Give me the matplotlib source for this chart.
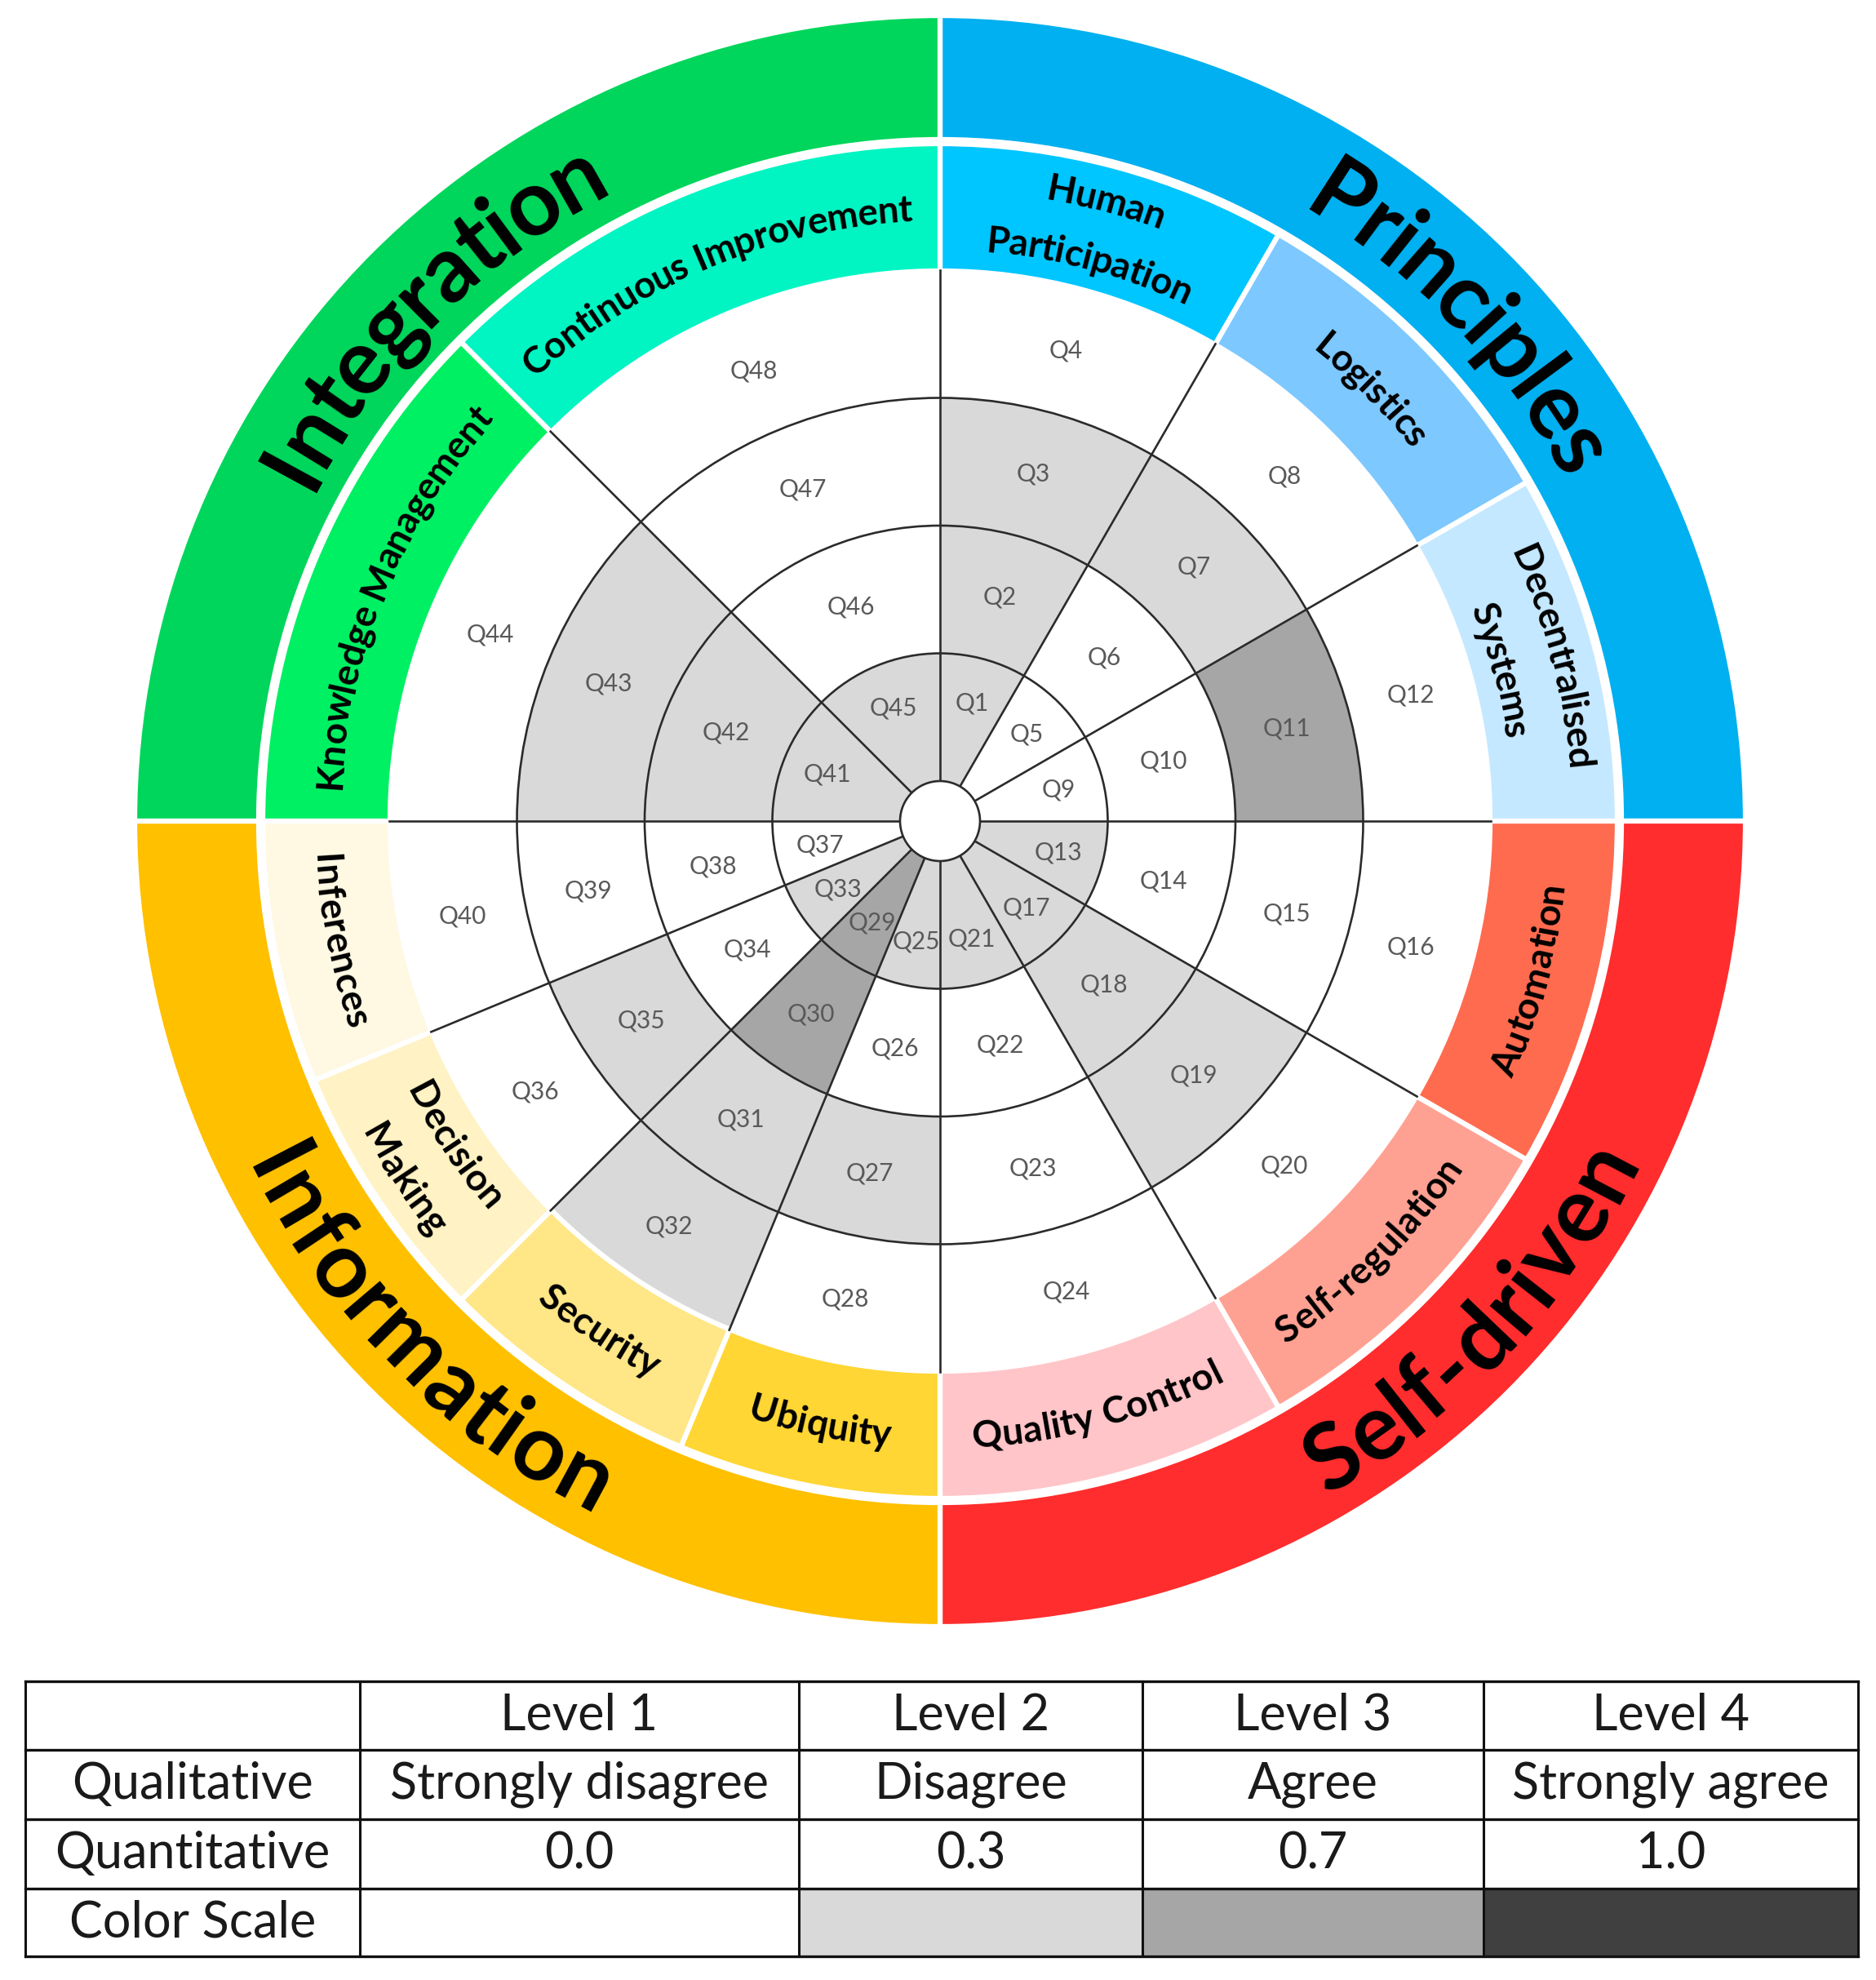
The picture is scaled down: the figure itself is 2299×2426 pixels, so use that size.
import numpy as np
import matplotlib
matplotlib.use('Agg')
import matplotlib.pyplot as plt
from matplotlib.patches import Wedge, Circle, Rectangle
from matplotlib.font_manager import FontProperties

plt.rcParams['font.family'] = ['Lato', 'DejaVu Sans']

# main categories, clockwise from 12 o'clock
main_names = ['Principles', 'Self-driven', 'Information', 'Integration']
main_colors = ['#00B0F0', '#FF2D2D', '#FFC000', '#00D65B']

# sub categories in question order (Q1-Q4 belong to the first one, ...)
sub_names = ['Human\nParticipation', 'Logistics', 'Decentralised\nSystems',
             'Automation', 'Self-regulation', 'Quality Control',
             'Ubiquity', 'Security', 'Decision\nMaking', 'Inferences',
             'Knowledge Management', 'Continuous Improvement']
sub_quad = [0, 0, 0, 1, 1, 1, 2, 2, 2, 2, 3, 3]
sub_colors = ['#00C6FF', '#7DC8FF', '#C4E8FF',
              '#FF6B4F', '#FFA192', '#FFC5C8',
              '#FFD633', '#FFE686', '#FFF2C4', '#FFF8E2',
              '#00F064', '#00F5C3']

# answer level of Q1..Q48, inner ring first
levels = [2, 2, 2, 1,  1, 1, 2, 1,  1, 1, 3, 1,
          2, 1, 1, 1,  2, 2, 2, 1,  2, 1, 1, 1,
          2, 1, 2, 1,  3, 3, 2, 2,  2, 1, 2, 1,
          1, 1, 1, 1,  2, 2, 2, 1,  2, 1, 1, 1]
level_colors = ['#FFFFFF', '#D9D9D9', '#A6A6A6', '#404040']

# legend table
col_heads = ['', 'Level 1', 'Level 2', 'Level 3', 'Level 4']
row_names = ['Qualitative', 'Quantitative', 'Color Scale']
qualitative = ['Strongly disagree', 'Disagree', 'Agree', 'Strongly agree']
quantitative = [0.0, 0.3, 0.7, 1.0]

W, H = 2299, 2426
fig = plt.figure(figsize=(W / 100, H / 100), dpi=100)
ax = fig.add_axes([0, 0, 1, 1])
ax.set_xlim(0, W)
ax.set_ylim(0, H)
ax.axis('off')
renderer = fig.canvas.get_renderer()

cx, cy = 1152, H - 1006
r_q = [49, 205.5, 362, 518.5, 675]
lab_r = [150, 284, 440, 597]
line_c = '#2b2b2b'

# sector angles of each sub category
theta = []
for q in range(4):
    subs = [i for i in range(len(sub_names)) if sub_quad[i] == q]
    w = 90 / len(subs)
    for k, i in enumerate(subs):
        a0 = 90 - 90 * q - k * w
        theta.append((a0 - w, a0))

# question cells
for i in range(len(sub_names)):
    t1, t2 = theta[i]
    for j in range(4):
        lv = levels[4 * i + j]
        ax.add_patch(Wedge((cx, cy), r_q[j + 1], t1, t2, width=r_q[j + 1] - r_q[j],
                           fc=level_colors[lv - 1], ec='none', zorder=1))

for r in r_q[1:4]:
    ax.add_patch(Circle((cx, cy), r, fill=False, ec=line_c, lw=1.9, zorder=2))
for i in range(len(sub_names)):
    a = np.radians(theta[i][1])
    ax.plot([cx + r_q[0] * np.cos(a), cx + r_q[4] * np.cos(a)],
            [cy + r_q[0] * np.sin(a), cy + r_q[4] * np.sin(a)],
            color=line_c, lw=1.9, zorder=2)
ax.add_patch(Circle((cx, cy), r_q[0], fc='white', ec=line_c, lw=1.9, zorder=3))

# question labels
for i in range(len(sub_names)):
    mid = np.radians(sum(theta[i]) / 2)
    for j in range(4):
        ax.text(cx + lab_r[j] * np.cos(mid), cy + lab_r[j] * np.sin(mid),
                'Q%d' % (4 * i + j + 1), ha='center', va='center',
                fontsize=21.5, color='#595959', zorder=4)

# coloured rings
for q in range(4):
    ax.add_patch(Wedge((cx, cy), 987, -90 * q, 90 - 90 * q, width=987 - 835,
                       fc=main_colors[q], ec='white', lw=4.5, zorder=1))
for i in range(len(sub_names)):
    t1, t2 = theta[i]
    ax.add_patch(Wedge((cx, cy), 830, t1, t2, width=830 - 674,
                       fc=sub_colors[i], ec='white', lw=4.5, zorder=1))


def arc_text(s, r, center_deg, size):
    prop = FontProperties(family='Lato', weight='bold', size=size)
    w0 = renderer.get_text_width_height_descent('xx', prop, ismath=False)[0]
    widths = [renderer.get_text_width_height_descent('x' + c + 'x', prop, ismath=False)[0] - w0
              for c in s]
    outward = np.sin(np.radians(center_deg)) > 0
    cap = 0.36 * size * 100 / 72
    rb = r - cap if outward else r + cap
    span = np.degrees(sum(widths) / r)
    a = center_deg + span / 2 if outward else center_deg - span / 2
    for c, w in zip(s, widths):
        da = np.degrees(w / r)
        ang = a - da / 2 if outward else a + da / 2
        rad = np.radians(ang)
        ax.text(cx + rb * np.cos(rad), cy + rb * np.sin(rad), c,
                rotation=ang - 90 if outward else ang + 90, rotation_mode='anchor',
                ha='center', va='baseline', fontproperties=prop, color='black', zorder=5)
        a = a - da if outward else a + da


main_angles = [44, 317, 225, 135]
for q in range(4):
    arc_text(main_names[q], 911, main_angles[q], 81)

for i in range(len(sub_names)):
    mid = sum(theta[i]) / 2
    lines = sub_names[i].split('\n')
    if len(lines) == 1:
        arc_text(lines[0], 752, mid, 33)
    else:
        outward = np.sin(np.radians(mid)) > 0
        radii = [789, 716] if outward else [716, 789]
        for ln, rr in zip(lines, radii):
            arc_text(ln, rr, mid, 33)

# legend table
tx = [31, 441, 979, 1400, 1818, 2277]
ty = [H - y for y in [2060, 2144, 2229, 2314, 2397]]
for k in range(4):
    ax.add_patch(Rectangle((tx[k + 1], ty[4]), tx[k + 2] - tx[k + 1], ty[3] - ty[4],
                           fc=level_colors[k], ec='none'))
for y in ty:
    ax.plot([tx[0], tx[-1]], [y, y], color='#111111', lw=2.4, solid_capstyle='projecting')
for x in tx:
    ax.plot([x, x], [ty[0], ty[-1]], color='#111111', lw=2.2, solid_capstyle='projecting')

rows = [col_heads,
        [row_names[0]] + qualitative,
        [row_names[1]] + ['%.1f' % v for v in quantitative],
        [row_names[2], '', '', '', '']]
for r, row in enumerate(rows):
    yc = (ty[r] + ty[r + 1]) / 2
    for c, txt in enumerate(row):
        if txt:
            ax.text((tx[c] + tx[c + 1]) / 2, yc, txt, ha='center', va='center',
                    fontsize=44, color='#1a1a1a')

fig.savefig('out.png', dpi=100)
